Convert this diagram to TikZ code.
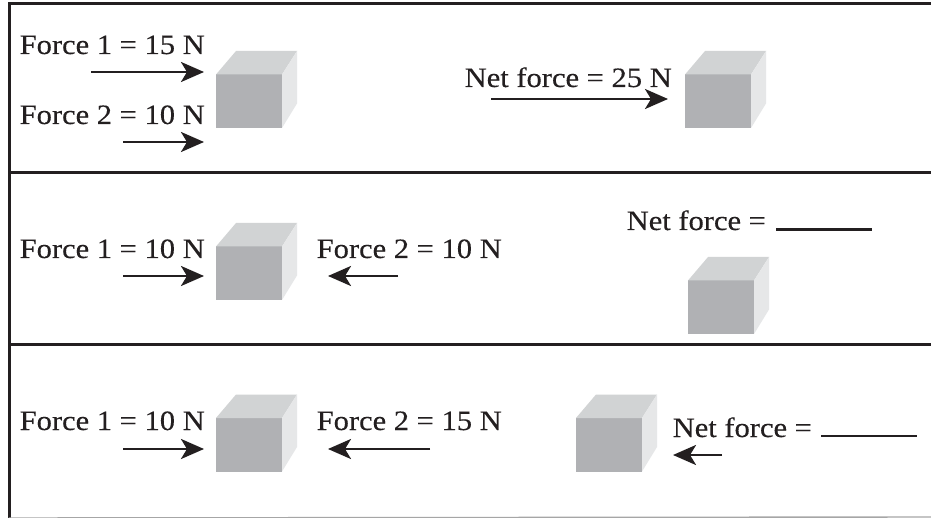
\documentclass[tikz,border=0pt]{standalone}
\usepackage{fontspec}
\setmainfont[FakeStretch=1.09,WordSpace=1.0,FakeBold=0.25]{Liberation Serif}
\usetikzlibrary{arrows.meta}
\definecolor{ink}{HTML}{231F20}
\definecolor{cubefront}{HTML}{B0B1B4}
\definecolor{cubetop}{HTML}{D1D3D4}
\definecolor{cubeside}{HTML}{E6E7E8}
\tikzset{
  x=1pt,y=-1pt,
  label text/.style={anchor=base west,inner sep=0pt,text=ink,font=\fontsize{28}{30}\selectfont},
  rule line/.style={draw=ink,line width=3pt},
  force arrow/.style={draw=ink,line width=2.8pt,-{Stealth[length=23pt,width=20pt,inset=6pt]},shorten >=-1pt},
  answer line/.style={draw=ink,line width=2.8pt},
  block/.pic={
    \fill[cubefront] (0,0) rectangle (66,53.5);
    \fill[cubetop] (0,0) -- (20,-23.5) -- (81,-23.5) -- (66,0) -- cycle;
    \fill[cubeside] (66,0) -- (81,-23.5) -- (81,29) -- (66,53.5) -- cycle;
  }
}
\begin{document}
\begin{tikzpicture}
\useasboundingbox (0,0) rectangle (931,518);
\fill[white] (0,0) rectangle (931,518);
% panel rules
\coordinate (tl) at (9,4);   \coordinate (tr) at (931,4);
\coordinate (bl) at (9,518); \coordinate (br) at (931,517);
\coordinate (m1l) at (9,173);  \coordinate (m1r) at (931,173);
\coordinate (m2l) at (9,344);  \coordinate (m2r) at (931,344);
\draw[rule line] (tr) -- (tl) -- (bl);
\draw[rule line] (m1l) -- (m1r);
\draw[rule line] (m2l) -- (m2r);
\draw[draw=gray!70,line width=1.4pt] (bl) -- (br);
% blocks
\pic at (216,74.5) {block};
\pic at (685,74.5) {block};
\pic at (216,246.5) {block};
\pic at (688,280.5) {block};
\pic at (216,418) {block};
\pic at (576,418) {block};
% labels
\node[label text] (a1) at (19.5,54) {Force 1 = 15 N};
\node[label text] (a2) at (19.5,124) {Force 2 = 10 N};
\node[label text] (a3) at (464.5,87) {Net force = 25 N};
\node[label text] (b1) at (19.5,258) {Force 1 = 10 N};
\node[label text] (b2) at (316.5,258) {Force 2 = 10 N};
\node[label text] (b3) at (626.5,230) {Net force =};
\node[label text] (c1) at (19.5,430) {Force 1 = 10 N};
\node[label text] (c2) at (316.5,430) {Force 2 = 15 N};
\node[label text] (c3) at (672.5,437) {Net force =};
% force arrows
\coordinate (p1) at (91,72);   \coordinate (q1) at (203,72);
\coordinate (p2) at (123,142); \coordinate (q2) at (203,142);
\coordinate (p3) at (491,99);  \coordinate (q3) at (667,99);
\coordinate (p4) at (123,276); \coordinate (q4) at (203,276);
\coordinate (p5) at (398,276); \coordinate (q5) at (329,276);
\coordinate (p6) at (123,449); \coordinate (q6) at (203,449);
\coordinate (p7) at (430,449); \coordinate (q7) at (329,449);
\coordinate (p8) at (722,455); \coordinate (q8) at (674,455);
\foreach \n in {1,...,8} \draw[force arrow] (p\n) -- (q\n);
% answer blanks
\coordinate (r1) at (776,229.5); \coordinate (s1) at (872,229.5);
\coordinate (r2) at (821,436);   \coordinate (s2) at (917,436);
\draw[answer line] (r1) -- (s1);
\draw[answer line] (r2) -- (s2);
\end{tikzpicture}
\end{document}
